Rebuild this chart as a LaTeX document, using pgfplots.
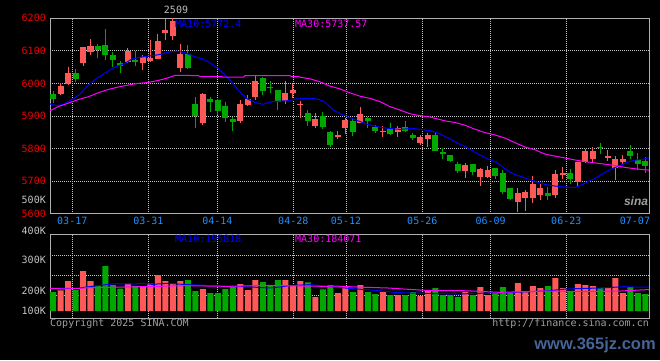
\documentclass[border=0pt]{standalone}
\usepackage{pgfplots}
\usepackage{pgfplotstable}
\pgfplotsset{compat=1.18}
\usepackage{fontspec}
\newfontfamily\mono{DejaVu Sans Mono}
\newfontfamily\wmfont{Liberation Sans}
\definecolor{cRed}{RGB}{255,88,88}
\definecolor{cGreen}{RGB}{0,168,0}
\definecolor{tRed}{RGB}{238,0,0}
\definecolor{tBlue}{RGB}{30,144,255}
\definecolor{gridc}{RGB}{195,195,195}
\definecolor{bord}{RGB}{175,175,175}
\definecolor{tGray}{RGB}{195,195,195}
\definecolor{cGray}{RGB}{160,160,160}
\definecolor{maB}{RGB}{0,0,255}
\definecolor{maM}{RGB}{255,0,255}
\definecolor{wmBlue}{RGB}{70,100,150}
\newcommand{\fs}{\mono\fontsize{10bp}{10bp}\selectfont}

% candles: x = candle centre, O H L C
\pgfplotstableread{
x O H L C
1.4 5967 6000 5964 5992
2.4 5998 6050 5995 6032
4.4 6063 6113 6054 6111
5.4 6097 6136 6088 6114
10.4 6065 6108 6062 6101
12.4 6063 6086 6042 6080
13.4 6069 6134 6066 6078
14.4 6076 6151 6074 6130
15.4 6155 6199 6133 6164
16.4 6146 6200 6133 6191
17.4 6047 6120 6034 6090
20.4 5879 5970 5872 5967
25.4 5885 5948 5879 5937
26.4 5934 5966 5932 5952
27.4 5958 6024 5950 6007
31.4 5946 6009 5938 5972
32.4 5970 5999 5956 5979
33.4 5933 5946 5895 5938
35.4 5869 5909 5864 5891
38.4 5835 5854 5829 5842
39.4 5863 5894 5844 5887
41.4 5880 5928 5878 5906
44.4 5851 5869 5837 5854
46.4 5850 5869 5837 5862
49.4 5817 5842 5810 5836
50.4 5830 5849 5806 5842
55.4 5732 5756 5710 5750
57.4 5713 5741 5686 5738
58.4 5714 5747 5711 5735
62.4 5637 5680 5606 5664
63.4 5649 5673 5609 5667
64.4 5649 5716 5634 5692
65.4 5658 5692 5643 5680
67.4 5658 5735 5649 5722
68.4 5719 5744 5707 5726
70.4 5698 5760 5686 5759
71.4 5759 5799 5756 5793
72.4 5768 5805 5759 5793
74.4 5771 5796 5762 5778
75.4 5741 5778 5704 5768
76.4 5759 5781 5750 5768
}\redc

\pgfplotstableread{
x O H L C
0.4 5967 5977 5941 5952
3.4 6032 6044 6005 6014
6.4 6114 6120 6079 6103
7.4 6117 6166 6071 6086
8.4 6087 6096 6051 6072
9.4 6062 6068 6033 6054
11.4 6072 6099 6054 6066
18.4 6090 6117 6044 6046
19.4 5937 5958 5864 5899
21.4 5953 5958 5912 5943
22.4 5950 5953 5903 5915
23.4 5931 5942 5883 5895
24.4 5891 5898 5854 5883
28.4 6018 6021 5964 5977
29.4 5989 6009 5970 5986
30.4 5980 5981 5918 5942
34.4 5910 5918 5869 5885
36.4 5900 5912 5860 5866
37.4 5851 5853 5806 5811
40.4 5885 5892 5840 5852
42.4 5894 5896 5864 5885
43.4 5866 5872 5849 5855
45.4 5864 5880 5842 5846
47.4 5866 5885 5851 5855
48.4 5843 5849 5827 5833
51.4 5842 5847 5791 5793
52.4 5790 5802 5769 5782
53.4 5781 5781 5759 5763
54.4 5753 5760 5726 5732
56.4 5753 5753 5719 5729
59.4 5741 5741 5708 5716
60.4 5726 5735 5661 5667
61.4 5680 5680 5643 5646
66.4 5664 5683 5643 5655
69.4 5726 5738 5692 5707
73.4 5805 5817 5784 5802
77.4 5793 5811 5768 5778
78.4 5765 5787 5735 5753
79.4 5762 5775 5726 5747
}\grnc

\begin{document}
\begin{tikzpicture}[x=1bp,y=1bp]
\fill[black] (0,0) rectangle (660,-360);

% ---------------- price panel ----------------
\begin{axis}[
  at={(50bp,-18.3bp)}, anchor=north west, scale only axis,
  width=599bp, height=195.4bp,
  xmin=0, xmax=79.87, ymin=5600, ymax=6200,
  axis line style={draw=bord, line width=1bp},
  major tick length=0pt,
  ytick={5600,5700,5800,5900,6000,6100,6200},
  yticklabels={5600,5700,5800,5900,6000,6100,6200},
  yticklabel style={font=\fs, text=tRed, anchor=east, inner sep=0pt, xshift=-4bp},
  xtick={2.97,13.11,22.31,32.44,39.47,49.64,58.76,68.84},
  xticklabels={03-17,03-31,04-14,04-28,05-12,05-26,06-09,06-23},
  extra x ticks={78.0}, extra x tick labels={07-07},
  extra x tick style={grid=none},
  xticklabel style={font=\fs, text=tBlue, anchor=north, inner sep=0pt, yshift=-3.6bp},
  grid=major,
  major grid style={draw=gridc, line width=0.9bp, dash pattern=on 1bp off 1bp},
]
% wicks
\addplot[draw=none, mark=none, forget plot, error bars/.cd, y dir=plus, y explicit, error mark=none,
  error bar style={draw=cRed, line width=1bp, solid}]
  table[x=x, y=L, y error plus expr={\thisrow{H}-\thisrow{L}}] \redc;
\addplot[draw=none, mark=none, forget plot, error bars/.cd, y dir=plus, y explicit, error mark=none,
  error bar style={draw=cGreen, line width=1bp, solid}]
  table[x=x, y=L, y error plus expr={\thisrow{H}-\thisrow{L}}] \grnc;
% bodies
\addplot[draw=none, mark=none, forget plot, error bars/.cd, y dir=plus, y explicit, error mark=none,
  error bar style={draw=cRed, line width=6bp, solid}]
  table[x=x, y expr={min(\thisrow{O},\thisrow{C})}, y error plus expr={max(abs(\thisrow{C}-\thisrow{O}),3)}] \redc;
\addplot[draw=none, mark=none, forget plot, error bars/.cd, y dir=plus, y explicit, error mark=none,
  error bar style={draw=cGreen, line width=6bp, solid}]
  table[x=x, y expr={min(\thisrow{O},\thisrow{C})}, y error plus expr={max(abs(\thisrow{C}-\thisrow{O}),3)}] \grnc;
% MA10
\addplot[maB, line width=1bp, mark=none] coordinates {
(0,5937)(0.9,5932)(1.7,5935)(2.9,5950)(3.9,5965)(4.9,5990)(5.9,6010)(6.9,6025)(7.9,6040)(8.9,6053)(9.9,6060)(10.9,6075)(11.9,6080)(12.9,6083)(13.9,6086)(14.9,6090)(15.9,6097)(16.9,6099)(17.9,6095)(19.3,6082)(20.4,6075)(21.1,6066)(22.4,6046)(23.8,6015)(25.1,5980)(26.2,5954)(27.3,5942)(28.4,5936)(29.6,5944)(30.9,5946)(31.8,5947)(32.7,5952)(34.0,5954)(35.1,5954)(35.8,5951)(36.7,5942)(37.8,5918)(38.9,5905)(40.0,5895)(41.1,5885)(42.4,5874)(43.6,5867)(45.1,5862)(46.7,5859)(48.4,5862)(49.3,5859)(50.7,5855)(51.8,5847)(53.3,5830)(54.4,5816)(55.8,5801)(57.1,5783)(58.4,5768)(59.6,5757)(60.7,5737)(61.8,5722)(63.4,5709)(64.7,5699)(66.0,5690)(67.3,5685)(68.7,5682)(70.0,5680)(70.9,5689)(71.8,5699)(72.7,5709)(73.8,5724)(74.9,5738)(76.0,5748)(77.1,5759)(78.2,5765)(79.3,5768)(79.87,5772)};
% MA30
\addplot[maM, line width=1bp, mark=none] coordinates {
(0,5916)(1.1,5929)(2.4,5939)(3.7,5950)(5.1,5959)(6.4,5971)(7.7,5981)(9.1,5989)(10.4,5995)(11.7,6000)(13.1,6003)(14.4,6009)(15.7,6017)(16.7,6025)(19.8,6024)(20.0,6021)(22.9,6021)(23.1,6019)(25.8,6019)(26.0,6024)(32.0,6024)(32.2,6021)(33.1,6021)(33.4,6019)(34.7,6014)(36.0,6005)(37.3,5992)(38.7,5983)(40.0,5971)(41.3,5961)(42.7,5954)(44.0,5944)(45.3,5929)(46.7,5918)(48.0,5907)(49.3,5901)(50.7,5897)(51.3,5893)(52.7,5885)(54.0,5880)(55.3,5872)(56.7,5859)(58.0,5849)(59.3,5842)(60.7,5832)(62.0,5818)(63.3,5805)(64.7,5796)(66.0,5783)(67.3,5777)(68.7,5771)(70.0,5765)(71.3,5760)(72.7,5756)(74.0,5752)(75.3,5748)(76.7,5742)(78.0,5738)(79.3,5735)(79.87,5734)};
\end{axis}

% ---------------- volume panel ----------------
\begin{axis}[
  at={(50bp,-234.3bp)}, anchor=north west, scale only axis,
  width=599bp, height=84bp,
  xmin=0, xmax=79.87, ymin=-28.5, ymax=300,
  axis line style={draw=bord, line width=1bp},
  major tick length=0pt,
  xtick={2.97,13.11,22.31,32.44,39.47,49.64,58.76,68.84}, xticklabels={},
  ytick={61.4,139.6,217.8}, yticklabels={},
  grid=major,
  major grid style={draw=gridc, line width=0.9bp, dash pattern=on 1bp off 1bp},
]
\addplot[ybar, bar width=6bp, bar shift=0pt, fill=cRed, draw=none] coordinates {
(1.4,80.8)(2.4,117.4)(4.4,156.5)(5.4,117.4)(10.4,106.9)(12.4,93.9)(13.4,106.9)(14.4,140.8)(15.4,117.4)(16.4,106.9)(17.4,117.4)(20.4,86.1)(25.4,105.6)(26.4,82.2)(27.4,121.3)(31.4,121.3)(32.4,97.8)(33.4,117.4)(35.4,54.8)(38.4,70.4)(39.4,93.9)(41.4,101.7)(44.4,74.3)(46.4,62.6)(49.4,58.7)(50.4,82.2)(55.4,74.3)(57.4,93.9)(58.4,62.6)(62.4,109.5)(63.4,78.2)(64.4,97.8)(65.4,90.0)(67.4,129.1)(68.4,90.0)(70.4,105.6)(71.4,101.7)(72.4,97.8)(74.4,90.0)(75.4,129.1)(76.4,70.4)};
\addplot[ybar, bar width=6bp, bar shift=0pt, fill=cGreen, draw=none] coordinates {
(0.4,74.3)(3.4,82.2)(6.4,97.8)(7.4,176.0)(8.4,101.7)(9.4,87.4)(11.4,97.8)(18.4,121.3)(19.4,78.2)(21.4,70.4)(22.4,70.4)(23.4,86.1)(24.4,93.9)(28.4,113.4)(29.4,97.8)(30.4,121.3)(34.4,112.1)(36.4,84.8)(37.4,101.7)(40.4,74.3)(42.4,74.3)(43.4,66.5)(45.4,62.6)(47.4,62.6)(48.4,74.3)(51.4,90.0)(52.4,62.6)(53.4,62.6)(54.4,54.8)(56.4,62.6)(59.4,70.4)(60.4,93.9)(61.4,70.4)(66.4,97.8)(69.4,78.2)(73.4,90.0)(77.4,93.9)(78.4,70.4)(79.4,66.5)};
\addplot[maB, line width=1bp, mark=none] coordinates {
(0,88.7)(3.6,88.7)(4.9,93.9)(6.7,100.4)(8.7,106.9)(11.1,105.6)(12.4,108.2)(13.6,104.3)(15.6,108.2)(18.4,103.0)(20.9,100.4)(24.0,96.5)(26.9,93.9)(29.3,90.0)(30.9,95.2)(32.4,100.4)(34.7,103.0)(36.7,97.8)(37.8,95.2)(39.8,88.7)(42.2,83.5)(44.2,78.2)(46.5,71.7)(49.8,69.1)(54.5,66.5)(58.3,70.4)(60.7,71.7)(62.9,74.3)(64.9,76.9)(66.7,79.5)(68.2,84.8)(70.0,87.4)(73.4,90.0)(76.5,95.2)(78.7,93.0)(79.87,94.0)};
\addplot[maM, line width=1bp, mark=none] coordinates {
(0,88.7)(2.2,86.1)(5.3,91.3)(9.8,93.9)(14.4,96.5)(18.2,99.1)(23.6,96.5)(28.9,100.4)(33.3,97.8)(36.9,96.5)(37.8,97.8)(40.9,93.9)(45.1,90.0)(47.1,86.1)(50.2,80.8)(55.1,79.5)(57.3,76.9)(60.0,73.0)(62.9,75.6)(66.2,78.2)(69.8,76.9)(72.9,76.9)(76.0,78.2)(79.87,84.0)};
\end{axis}

% ---------------- texts ----------------
\node[font=\fs, text=tGray!110, inner sep=0pt] at (176,-9.7) {2509};
\node[font=\fs, text=maB, anchor=west, inner sep=0pt] at (175,-23.7) {MA10:5772.4};
\node[font=\fs, text=maM, anchor=west, inner sep=0pt] at (295,-23.7) {MA30:5737.57};
\node[font=\fs, text=tGray, anchor=east, inner sep=0pt] at (46,-200.3) {500K};
\node[font=\fs, text=tGray, anchor=east, inner sep=0pt] at (46,-230.7) {400K};
\node[font=\fs, text=tGray, anchor=east, inner sep=0pt] at (46,-260.0) {300K};
\node[font=\fs, text=tGray, anchor=east, inner sep=0pt] at (46,-290.7) {200K};
\node[font=\fs, text=tGray, anchor=east, inner sep=0pt] at (46,-311.0) {100K};
\node[font=\fs, text=maB, anchor=west, inner sep=0pt] at (175,-238.7) {MA10:195818};
\node[font=\fs, text=maM, anchor=west, inner sep=0pt] at (295,-238.7) {MA30:184071};
\node[font=\fs, text=cGray, anchor=base west, inner sep=0pt] at (50,-326.5) {Copyright 2025 SINA.COM};
\node[font=\fs, text=cGray, anchor=base east, inner sep=0pt] at (649,-326.5) {http://finance.sina.com.cn};
\node[font=\wmfont\fontsize{12bp}{12bp}\selectfont\bfseries\itshape, text=gray!75, inner sep=0pt] at (636,-201) {sina};
\node[font=\wmfont\fontsize{16.5bp}{16.5bp}\selectfont\bfseries, text=wmBlue, inner sep=0pt] at (595,-345) {www.365jz.com};
\end{tikzpicture}
\end{document}
